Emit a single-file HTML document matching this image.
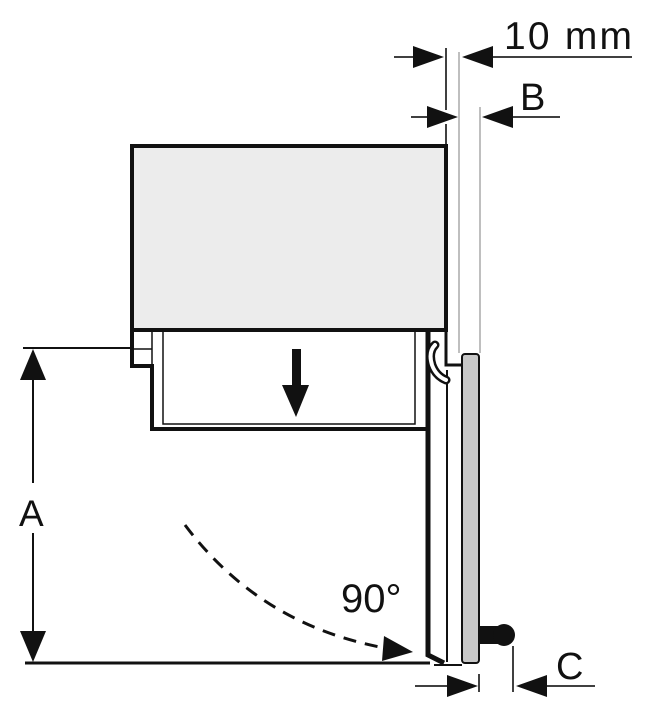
<!DOCTYPE html>
<html><head><meta charset="utf-8"><style>html,body{margin:0;padding:0;background:#fff}svg{display:block}</style></head>
<body>
<svg width="652" height="720" viewBox="0 0 652 720" xmlns="http://www.w3.org/2000/svg" font-family="Liberation Sans, sans-serif">
<line x1="459" y1="52" x2="459" y2="353" stroke="#aaa" stroke-width="1.5"/>
<line x1="480" y1="107" x2="480" y2="353" stroke="#aaa" stroke-width="1.5"/>
<line x1="446" y1="48" x2="446" y2="110" stroke="#000" stroke-width="1.5"/>
<line x1="446" y1="124" x2="446" y2="145" stroke="#000" stroke-width="1.5"/>
<line x1="394" y1="57" x2="420" y2="57" stroke="#000" stroke-width="1.5"/>
<polygon points="413,46 413,68 444,57" fill="#111"/>
<line x1="480" y1="57" x2="632" y2="57" stroke="#000" stroke-width="1.5"/>
<polygon points="493,46 493,68 462,57" fill="#111"/>
<text x="504" y="49" font-size="39" textLength="128" fill="#111">10 mm</text>
<line x1="411" y1="117" x2="430" y2="117" stroke="#000" stroke-width="1.5"/>
<polygon points="427,106 427,128 458,117" fill="#111"/>
<line x1="505" y1="117" x2="560" y2="117" stroke="#000" stroke-width="1.5"/>
<polygon points="513,106 513,128 482,117" fill="#111"/>
<text x="520" y="110" font-size="38" fill="#111">B</text>
<rect x="132" y="146" width="314" height="184" fill="#ececec" stroke="#111" stroke-width="4"/>
<path d="M132,330 L132,366 L152,366 L152,429 L427,429" fill="none" stroke="#111" stroke-width="4"/>
<line x1="132" y1="349" x2="152" y2="349" stroke="#111" stroke-width="1.5"/>
<line x1="152" y1="332" x2="152" y2="366" stroke="#111" stroke-width="1.5"/>
<path d="M163,332 L163,424 L415,424 L415,332" fill="none" stroke="#111" stroke-width="1.5"/>
<rect x="292" y="349" width="9" height="38" fill="#111"/>
<polygon points="282,385 309,385 296,417" fill="#111"/>
<path d="M446,330 L446,365 L461,365" fill="none" stroke="#111" stroke-width="3"/>
<path d="M428,330 L428,655 L444,663" fill="none" stroke="#111" stroke-width="5"/>
<line x1="447" y1="370" x2="447" y2="662" stroke="#111" stroke-width="2"/>
<path d="M434,665 L462,665" stroke="#111" stroke-width="2"/>
<path d="M435,345 Q428,352 432,365 Q436,376 446,380" fill="none" stroke="#111" stroke-width="9" stroke-linecap="round"/>
<path d="M435,345 Q428,352 432,365 Q436,376 446,380" fill="none" stroke="#fff" stroke-width="4" stroke-linecap="round"/>
<rect x="462" y="354" width="17" height="309" rx="3" fill="#c8c8c8" stroke="#111" stroke-width="2"/>
<rect x="479" y="626" width="24" height="18" fill="#111"/>
<circle cx="504" cy="635" r="11" fill="#111"/>
<line x1="479" y1="674" x2="479" y2="692" stroke="#000" stroke-width="1.5"/>
<line x1="415" y1="686" x2="450" y2="686" stroke="#000" stroke-width="1.5"/>
<polygon points="447,675 447,697 478,686" fill="#111"/>
<line x1="513" y1="646" x2="513" y2="692" stroke="#000" stroke-width="1.5"/>
<line x1="540" y1="686" x2="595" y2="686" stroke="#000" stroke-width="1.5"/>
<polygon points="547,675 547,697 516,686" fill="#111"/>
<text x="556" y="679" font-size="38" fill="#111">C</text>
<line x1="23" y1="348" x2="132" y2="348" stroke="#111" stroke-width="2"/>
<line x1="25" y1="663" x2="430" y2="663" stroke="#111" stroke-width="3"/>
<line x1="33" y1="370" x2="33" y2="483" stroke="#111" stroke-width="2"/>
<line x1="33" y1="533" x2="33" y2="640" stroke="#111" stroke-width="2"/>
<polygon points="20,380 46,380 33,349" fill="#111"/>
<polygon points="20,631 46,631 33,662" fill="#111"/>
<text x="19" y="526" font-size="37" fill="#111">A</text>
<path d="M185,525 Q260,625 385,648" fill="none" stroke="#111" stroke-width="3" stroke-dasharray="13,9"/>
<polygon points="384,636 382,661 413,652" fill="#111"/>
<text x="341" y="612" font-size="40" fill="#111">90°</text>
</svg>
</body></html>
